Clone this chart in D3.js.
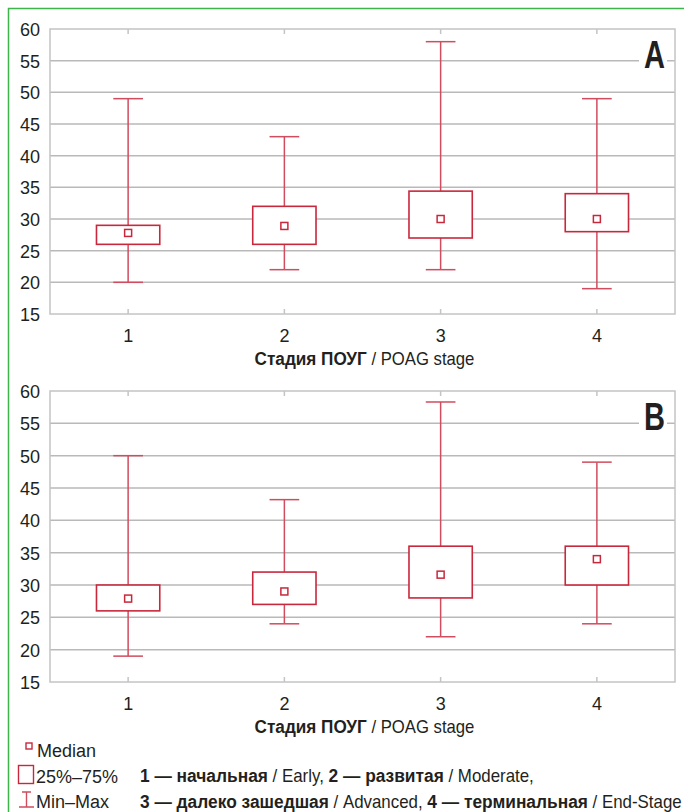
<!DOCTYPE html>
<html>
<head>
<meta charset="utf-8">
<script src="https://cdn.jsdelivr.net/npm/d3@7"></script>
<style>
  body { margin: 0; background: #fff; }
  svg { display: block; font-family: "Liberation Sans", Arial, sans-serif; }
  .tick-label { font-size: 18px; fill: #231f20; }
  .grid line { stroke: #b9b9b9; stroke-width: 1.5; }
</style>
</head>
<body>
<svg id="chart" width="684" height="812"></svg>
<script>
// stages and y ticks
const stages = ["1", "2", "3", "4"];
const yTicks = [15, 20, 25, 30, 35, 40, 45, 50, 55, 60];

// panel A
const aMin = [20, 22, 22, 19];
const aQ1 = [26, 26, 27, 28];
const aMedian = [27.8, 28.9, 30, 30];
const aQ3 = [29, 32, 34.4, 34];
const aMax = [49, 43, 58, 49];

// panel B
const bMin = [19, 24, 22, 24];
const bQ1 = [26, 27, 28, 30];
const bMedian = [27.9, 29, 31.6, 34];
const bQ3 = [30, 32, 36, 36];
const bMax = [50, 43.2, 58.3, 49];

const boxStroke = "#c8283c";
const whiskerStroke = "#d04c5f";
const textColor = "#231f20";

const svg = d3.select("#chart");

// squeeze a text horizontally so it takes the given width (condensed face look)
function condense(g, width) {
  const w = g.node().getBBox().width;
  const t = g.attr("transform") || "";
  g.attr("transform", `${t} scale(${width / w},1)`);
}

// green frame
svg.append("path")
    .attr("d", "M8.5,812 L8.5,8.5 L684,8.5")
    .attr("fill", "none")
    .attr("stroke", "#3db54a")
    .attr("stroke-width", 1.5);

function drawPanel(cfg) {
  const rows = stages.map((s, i) => ({
    stage: s, min: cfg.min[i], q1: cfg.q1[i], median: cfg.median[i], q3: cfg.q3[i], max: cfg.max[i]
  }));

  const x = d3.scaleBand().domain(stages).range([cfg.left, cfg.right]);
  const y = d3.scaleLinear().domain([15, 60]).range([cfg.bottom, cfg.top]);
  const cx = d => x(d.stage) + x.bandwidth() / 2;
  const boxW = x.bandwidth() * 0.405;
  const capW = x.bandwidth() * 0.19;

  const g = svg.append("g");

  // grid
  g.append("g").attr("class", "grid")
    .selectAll("line").data(yTicks.slice(1, -1)).join("line")
      .attr("x1", cfg.left).attr("x2", cfg.right)
      .attr("y1", d => y(d)).attr("y2", d => y(d));

  // frame
  g.append("rect")
      .attr("x", cfg.left).attr("y", cfg.top)
      .attr("width", cfg.right - cfg.left).attr("height", cfg.bottom - cfg.top)
      .attr("fill", "none").attr("stroke", "#c4c4c4").attr("stroke-width", 1.5);

  // y axis labels
  const yAxis = d3.axisLeft(y).tickValues(yTicks).tickSize(0).tickPadding(10);
  const yg = g.append("g").attr("transform", `translate(${cfg.left},0)`).call(yAxis);
  yg.select(".domain").remove();
  yg.selectAll("text").attr("class", "tick-label").attr("font-family", null).attr("font-size", null)
      .attr("dy", "0.36em");

  // x axis: labels below, inner ticks top and bottom
  const xAxis = d3.axisBottom(x).tickSize(0).tickPadding(15);
  const xg = g.append("g").attr("transform", `translate(0,${cfg.bottom})`).call(xAxis);
  xg.select(".domain").remove();
  xg.selectAll("text").attr("class", "tick-label").attr("font-family", null).attr("font-size", null);

  g.selectAll(".tick-top").data(stages).join("line")
      .attr("x1", d => x(d) + x.bandwidth() / 2).attr("x2", d => x(d) + x.bandwidth() / 2)
      .attr("y1", cfg.top).attr("y2", cfg.top + 5)
      .attr("stroke", "#c4c4c4").attr("stroke-width", 1.5);
  g.selectAll(".tick-bottom").data(stages).join("line")
      .attr("x1", d => x(d) + x.bandwidth() / 2).attr("x2", d => x(d) + x.bandwidth() / 2)
      .attr("y1", cfg.bottom).attr("y2", cfg.bottom - 5)
      .attr("stroke", "#c4c4c4").attr("stroke-width", 1.5);

  // axis title
  const tg = g.append("g")
      .attr("transform", `translate(${(cfg.left + cfg.right) / 2 + 2},${cfg.bottom + 51})`);
  const title = tg.append("text")
      .attr("text-anchor", "middle").attr("font-size", 18).attr("fill", textColor);
  title.append("tspan").attr("font-weight", "bold").attr("font-size", 18.5).text("Стадия ПОУГ");
  title.append("tspan").text(" / POAG stage");
  condense(tg, 220);

  // panel letter with white backing
  g.append("rect")
      .attr("x", cfg.right - 36).attr("y", cfg.top + 10)
      .attr("width", 28).attr("height", 30).attr("fill", "#fff");
  const lgp = g.append("g").attr("transform", `translate(${cfg.right - 20.5},${cfg.top + 39})`);
  lgp.append("text")
      .attr("text-anchor", "middle")
      .attr("font-weight", "bold").attr("font-size", 39).attr("fill", textColor)
      .text(cfg.label);
  condense(lgp, 21);

  // whiskers
  const box = g.append("g").selectAll("g").data(rows).join("g");
  box.append("line")
      .attr("x1", cx).attr("x2", cx)
      .attr("y1", d => y(d.max)).attr("y2", d => y(d.q3))
      .attr("stroke", whiskerStroke).attr("stroke-width", 1.5);
  box.append("line")
      .attr("x1", cx).attr("x2", cx)
      .attr("y1", d => y(d.q1)).attr("y2", d => y(d.min))
      .attr("stroke", whiskerStroke).attr("stroke-width", 1.5);
  box.append("line")
      .attr("x1", d => cx(d) - capW / 2).attr("x2", d => cx(d) + capW / 2)
      .attr("y1", d => y(d.max)).attr("y2", d => y(d.max))
      .attr("stroke", whiskerStroke).attr("stroke-width", 1.5);
  box.append("line")
      .attr("x1", d => cx(d) - capW / 2).attr("x2", d => cx(d) + capW / 2)
      .attr("y1", d => y(d.min)).attr("y2", d => y(d.min))
      .attr("stroke", whiskerStroke).attr("stroke-width", 1.5);

  // boxes
  box.append("rect")
      .attr("x", d => cx(d) - boxW / 2).attr("width", boxW)
      .attr("y", d => y(d.q3)).attr("height", d => y(d.q1) - y(d.q3))
      .attr("fill", "#fff").attr("stroke", boxStroke).attr("stroke-width", 1.6);

  // medians
  box.append("rect")
      .attr("x", d => cx(d) - 3.5).attr("y", d => y(d.median) - 3.5)
      .attr("width", 7).attr("height", 7)
      .attr("fill", "#fff").attr("stroke", boxStroke).attr("stroke-width", 1.5);
}

drawPanel({ label: "A", left: 50, right: 675, top: 29, bottom: 314,
  min: aMin, q1: aQ1, median: aMedian, q3: aQ3, max: aMax });
drawPanel({ label: "B", left: 50, right: 675, top: 391, bottom: 682,
  min: bMin, q1: bQ1, median: bMedian, q3: bQ3, max: bMax });

// legend
const lg = svg.append("g").attr("font-size", 18).attr("fill", textColor);
lg.append("rect").attr("x", 26).attr("y", 743).attr("width", 6).attr("height", 6)
    .attr("fill", "#fff").attr("stroke", boxStroke).attr("stroke-width", 1.4);
lg.append("text").attr("x", 37).attr("y", 757).text("Median");
lg.append("rect").attr("x", 18.5).attr("y", 765.5).attr("width", 15).attr("height", 18)
    .attr("fill", "#fff").attr("stroke", boxStroke).attr("stroke-width", 1.4);
lg.append("text").attr("x", 36).attr("y", 783).text("25%–75%");
lg.append("path").attr("d", "M22,792 L31,792 M26.5,792 L26.5,807 M19,807 L34,807")
    .attr("fill", "none").attr("stroke", whiskerStroke).attr("stroke-width", 1.4);
lg.append("text").attr("x", 36).attr("y", 808).text("Min–Max");

const stageNotes = [
  [["1 — начальная", true], [" / Early, ", false], ["2 — развитая", true], [" / Moderate,", false]],
  [["3 — далеко зашедшая", true], [" / Advanced, ", false], ["4 — терминальная", true], [" / End-Stage", false]]
];
const noteWidths = [394, 542];
stageNotes.forEach((line, i) => {
  const ng = lg.append("g").attr("transform", `translate(140,${782 + i * 26})`);
  const t = ng.append("text");
  line.forEach(([s, bold]) => {
    const sp = t.append("tspan").text(s);
    if (bold) sp.attr("font-weight", "bold").attr("font-size", 18.5);
  });
  condense(ng, noteWidths[i]);
});
</script>
</body>
</html>
